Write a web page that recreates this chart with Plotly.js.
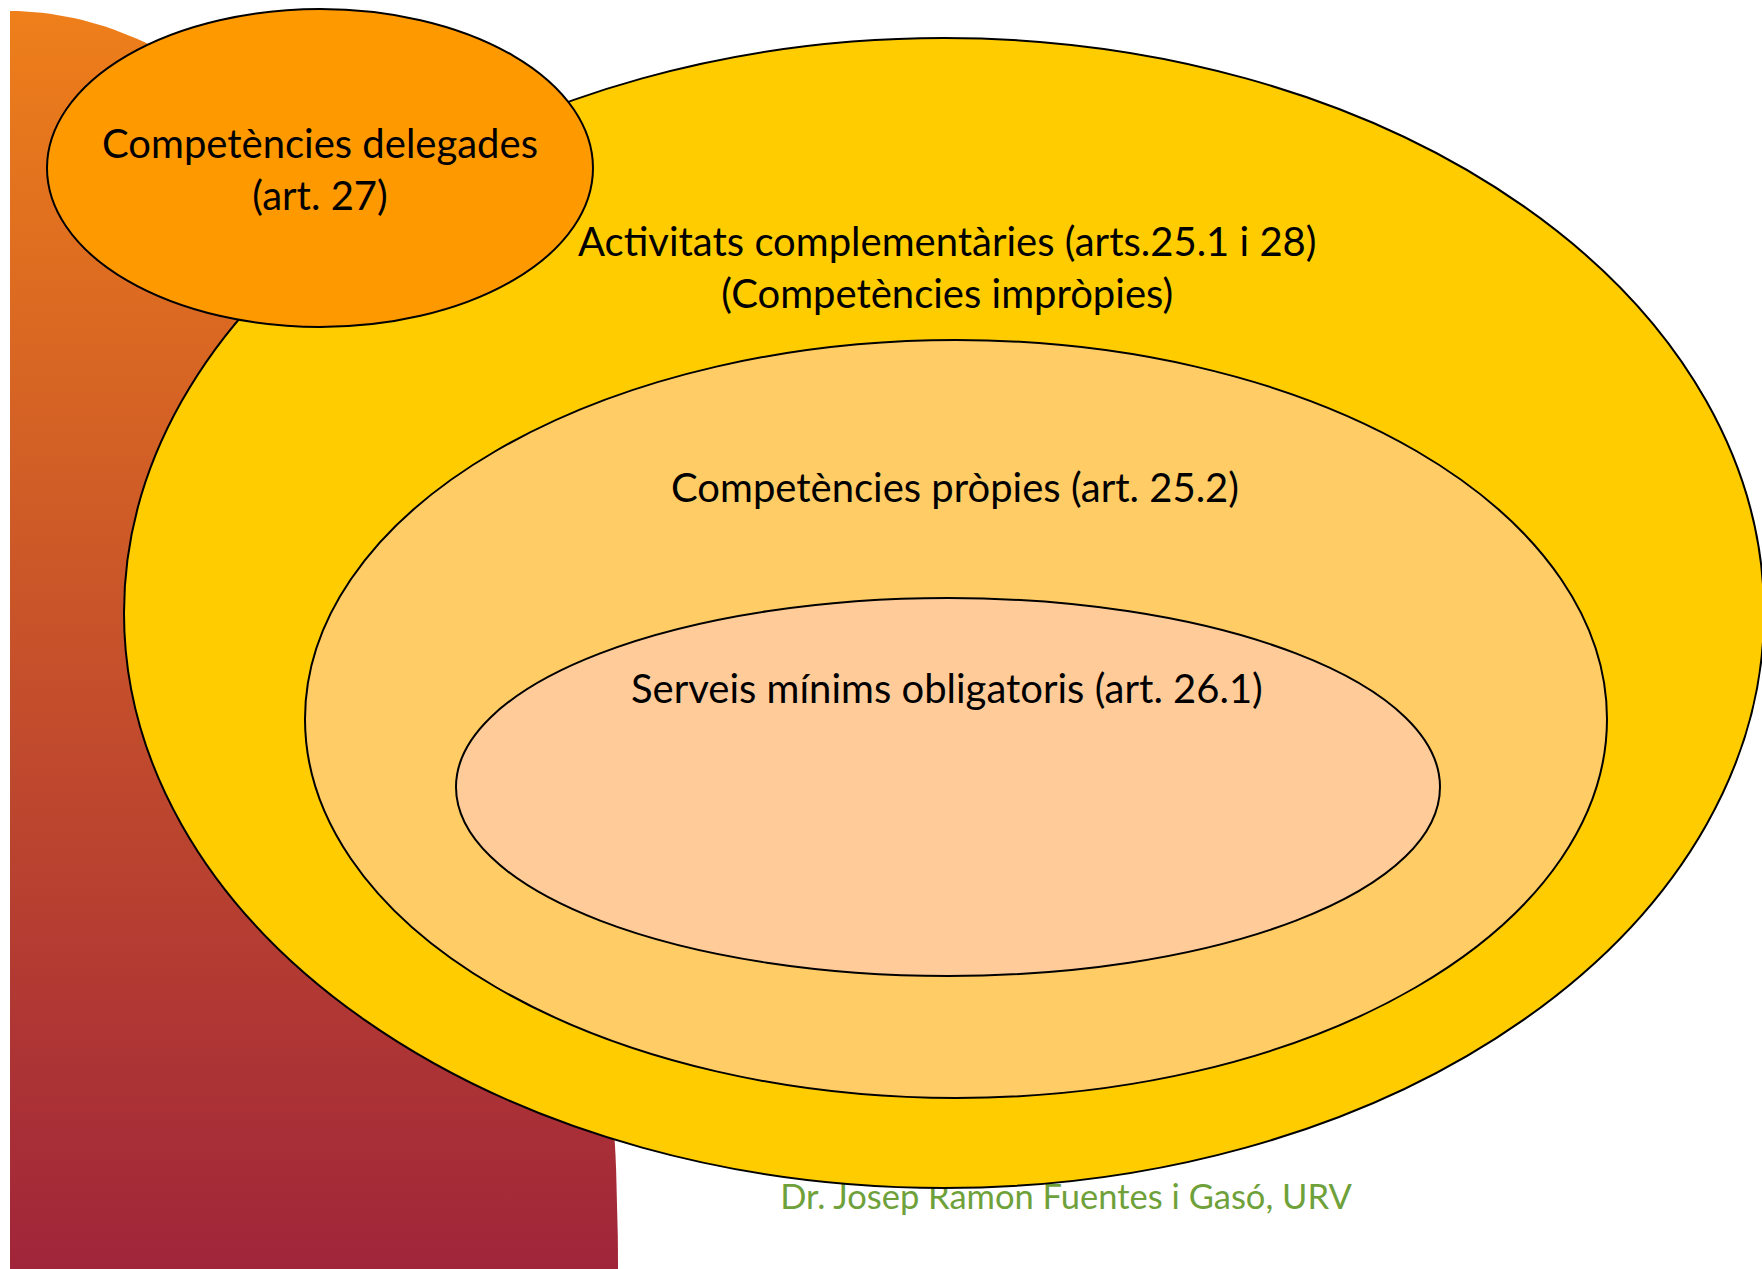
<!DOCTYPE html>
<html>
<head>
<meta charset="utf-8">
<script src="https://cdn.plot.ly/plotly-3.0.1.min.js"></script>
<style>
  html, body { margin: 0; padding: 0; background: #ffffff; }
  #chart { width: 1762px; height: 1269px; }
</style>
</head>
<body>
<div id="chart"></div>
<script>
// ---- Diagram content ----
const circleNames = [
  "Activitats complementàries",
  "Competències pròpies",
  "Serveis mínims",
  "Competències delegades"
];
const circleLabels = [
  "Activitats complementàries (arts.25.1 i 28)<br>(Competències impròpies)",
  "Competències pròpies (art. 25.2)",
  "Serveis mínims obligatoris (art. 26.1)",
  "Competències delegades<br>(art. 27)"
];
const footerText = ["Dr. Josep Ramon Fuentes i Gasó, URV"];

// ---- Geometry (pixel space of the 1762x1269 canvas) ----
const ellipseCx = [944, 956, 948, 320];
const ellipseCy = [613, 719, 787, 168];
const ellipseRx = [820, 651, 492, 273];
const ellipseRy = [575, 379, 189, 159];
const ellipseFill = ["#FFCC00", "#FFCC66", "#FFCC99", "#FF9900"];
const labelX = [947, 955, 947, 320];
const labelY = [267, 487, 688, 169];

// Background shape: quarter-ellipse topped column
const bgLeft = 10, bgTop = 11, bgBottom = 1269, bgRx = 608;
const bgColors = ["#A0253A", "#EE7F1A"]; // bottom (low-y-value end after reversal), top

const bgX = [bgLeft], bgY = [bgBottom];
const N = 120;
for (let i = 0; i <= N; i++) {
  const t = (Math.PI / 2) * i / N;
  bgX.push(bgLeft + bgRx * Math.sin(t));
  bgY.push(bgBottom - (bgBottom - bgTop) * Math.cos(t));
}
bgX.push(bgLeft); bgY.push(bgBottom);

const traces = [
  {
    type: "scatter", mode: "lines",
    x: bgX, y: bgY,
    fill: "toself",
    fillcolor: bgColors[1],
    fillgradient: { type: "vertical", colorscale: [[0, bgColors[0]], [1, bgColors[1]]] },
    line: { width: 0, color: "rgba(0,0,0,0)" },
    hoverinfo: "skip", showlegend: false
  },
  {
    type: "scatter", mode: "text",
    x: [1066], y: [1200],
    text: footerText,
    textposition: "middle center",
    textfont: { family: "Lato, sans-serif", size: 34.5, color: "#6FA13A" },
    hoverinfo: "skip", showlegend: false, cliponaxis: false
  }
];

const shapes = circleNames.map((n, i) => ({
  type: "circle", layer: "above",
  xref: "x", yref: "y",
  x0: ellipseCx[i] - ellipseRx[i], x1: ellipseCx[i] + ellipseRx[i],
  y0: ellipseCy[i] - ellipseRy[i], y1: ellipseCy[i] + ellipseRy[i],
  fillcolor: ellipseFill[i],
  line: { color: "#000000", width: 2 }
}));

const annotations = circleLabels.map((t, i) => ({
  x: labelX[i], y: labelY[i], xref: "x", yref: "y",
  text: t, showarrow: false,
  xanchor: "center", yanchor: "middle", align: "center",
  font: { family: "Lato, sans-serif", size: 40, color: "#000000" }
}));

const layout = {
  width: 1762, height: 1269,
  margin: { l: 0, r: 0, t: 0, b: 0, pad: 0 },
  paper_bgcolor: "#ffffff", plot_bgcolor: "#ffffff",
  xaxis: { range: [0, 1762], visible: false, fixedrange: true },
  yaxis: { range: [1269, 0], visible: false, fixedrange: true },
  shapes: shapes,
  annotations: annotations,
  showlegend: false
};

Plotly.newPlot("chart", traces, layout, { staticPlot: true, displayModeBar: false });
</script>
</body>
</html>
